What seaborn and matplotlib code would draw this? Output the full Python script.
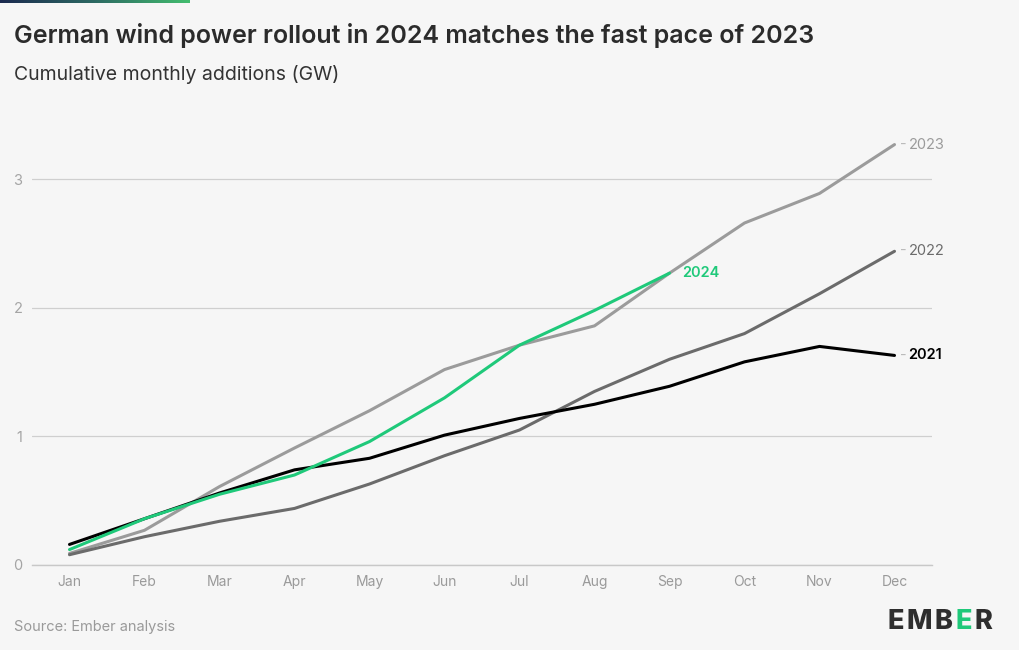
import numpy as np
import pandas as pd
import matplotlib
matplotlib.use("Agg")
import matplotlib.pyplot as plt
import seaborn as sns
from matplotlib.colors import LinearSegmentedColormap

months = ["Jan", "Feb", "Mar", "Apr", "May", "Jun", "Jul", "Aug", "Sep", "Oct", "Nov", "Dec"]
y2021 = [0.16, 0.36, 0.56, 0.74, 0.83, 1.01, 1.14, 1.25, 1.39, 1.58, 1.70, 1.63]
y2022 = [0.08, 0.22, 0.34, 0.44, 0.63, 0.85, 1.05, 1.35, 1.60, 1.80, 2.11, 2.44]
y2023 = [0.09, 0.27, 0.61, 0.91, 1.20, 1.52, 1.71, 1.86, 2.27, 2.66, 2.89, 3.27]
y2024 = [0.12, 0.36, 0.55, 0.70, 0.96, 1.30, 1.71, 1.98, 2.27]
yticks = [0, 1, 2, 3]

series = {"2021": y2021, "2022": y2022, "2023": y2023, "2024": y2024}
colors = {"2021": "#000000", "2022": "#6b6b6b", "2023": "#9b9b9b", "2024": "#1fc97a"}
order = ["2023", "2022", "2021", "2024"]

rows = []
for yr, vals in series.items():
    for i, v in enumerate(vals):
        rows.append({"month": i, "year": yr, "value": v})
df = pd.DataFrame(rows)

sns.set_theme(style="white")
FONT = ["Inter", "DejaVu Sans"]
plt.rcParams["font.family"] = FONT

BG = "#f6f6f6"
fig = plt.figure(figsize=(10.2, 6.5), dpi=100, facecolor=BG)
ax = fig.add_axes([32/1020, 1 - 565/650, 900/1020, 450/650], facecolor=BG)

sns.lineplot(data=df, x="month", y="value", hue="year", hue_order=order,
             palette=colors, linewidth=2.2, legend=False, ax=ax, sort=False)

ax.set_xlim(-0.5, 11.5)
ax.set_ylim(0, 3.5)
ax.set_xticks(range(12))
ax.set_xticklabels(months)
ax.set_yticks(yticks)
ax.set_yticklabels([str(t) for t in yticks])
ax.set_xlabel("")
ax.set_ylabel("")
for s in ["top", "right", "left"]:
    ax.spines[s].set_visible(False)
ax.spines["bottom"].set_color("#c8c8c8")
ax.spines["bottom"].set_linewidth(1)
ax.yaxis.grid(True, color="#cfcfcf", linewidth=0.9)
ax.set_axisbelow(True)
ax.tick_params(axis="x", colors="#c8c8c8", labelcolor="#9a9a9a", labelsize=10,
               length=4, width=0.8, pad=3)
ax.tick_params(axis="y", length=0, labelcolor="#a5a5a5", labelsize=10.5, pad=7)

# end labels
for yr in ["2021", "2022", "2023"]:
    vals = series[yr]
    ax.annotate("-", xy=(len(vals) - 1, vals[-1]), xytext=(4, 0),
                textcoords="offset points", va="center", ha="left",
                color="#bbbbbb", fontsize=10.5)
    ax.annotate(yr, xy=(len(vals) - 1, vals[-1]), xytext=(10, 0),
                textcoords="offset points", va="center", ha="left",
                color=colors[yr], fontsize=10.5,
                fontweight="semibold" if yr == "2021" else "normal")
ax.annotate("2024", xy=(len(y2024) - 1, y2024[-1]), xytext=(9, 0),
            textcoords="offset points", va="center", ha="left",
            color=colors["2024"], fontsize=10.5, fontweight="semibold")

# top gradient bar
bar_ax = fig.add_axes([0, 1 - 3/650, 190/1020, 3/650])
cmap = LinearSegmentedColormap.from_list("eg", ["#1b2a4f", "#2d6a63", "#43bd6f"])
bar_ax.imshow(np.linspace(0, 1, 256).reshape(1, -1), aspect="auto", cmap=cmap)
bar_ax.axis("off")

fig.text(14/1020, 1 - 35/650, "German wind power rollout in 2024 matches the fast pace of 2023",
         fontsize=18, fontweight="semibold", color="#2b2b2b", va="center", ha="left")
fig.text(14/1020, 1 - 74/650, "Cumulative monthly additions (GW)",
         fontsize=14, color="#333333", va="center", ha="left")
fig.text(14/1020, 1 - 627/650, "Source: Ember analysis",
         fontsize=10.5, color="#9a9a9a", va="center", ha="left")

# logo text, letters placed one after another
renderer = fig.canvas.get_renderer()
logo_y = 1 - 622/650
xpx = 888
for letter, col in [("E", "#2e2e2e"), ("M", "#2e2e2e"), ("B", "#2e2e2e"),
                    ("E", "#1fc97a"), ("R", "#2e2e2e")]:
    t = fig.text(xpx/1020, logo_y, letter, fontsize=19.5, fontweight="heavy", color=col,
                 va="center", ha="left")
    bb = t.get_window_extent(renderer)
    xpx += bb.width + 2.5

fig.savefig("out.png", dpi=100, facecolor=BG)
